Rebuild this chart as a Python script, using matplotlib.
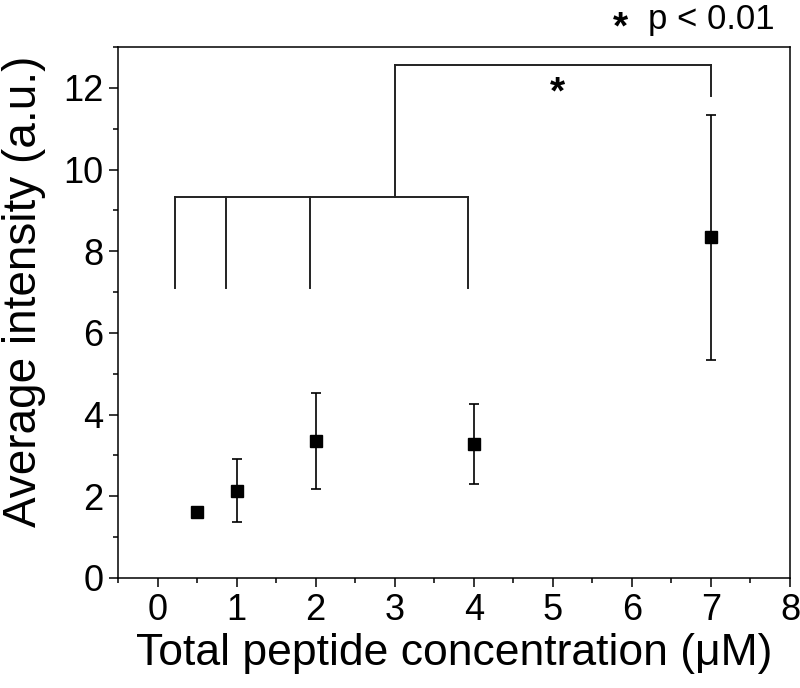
import numpy as np
import matplotlib
matplotlib.use("Agg")
import matplotlib.pyplot as plt
from matplotlib.ticker import MultipleLocator

plt.rcParams['font.family'] = ['Liberation Sans', 'DejaVu Sans']

# Data
conc = [0.5, 1, 2, 4, 7]
intensity = [1.62, 2.14, 3.36, 3.28, 8.34]
err = [0.06, 0.76, 1.18, 0.99, 3.0]

# significance bracket
leg_x = [0.22, 0.87, 1.93, 3.93]
leg_bottom = 7.09
bracket_y = 9.32
stem_x = 3
top_y = 12.55
right_x = 7
right_bottom = 11.81
star_x, star_y = 5.06, 11.85

fig = plt.figure(figsize=(8, 6.88), dpi=100)
ax = fig.add_axes([0.1475, 0.16, 0.84, 0.7717])

ax.errorbar(conc, intensity, yerr=err, fmt='none', ecolor='black',
            elinewidth=1.2, capsize=3.8, capthick=1.2, zorder=2)
ax.plot(conc, intensity, 's', color='black', ms=8.5, zorder=3)

# brackets
lc = '#222222'
lw = 1.4
for x in leg_x:
    ax.plot([x, x], [leg_bottom, bracket_y], color=lc, lw=lw)
ax.plot([leg_x[0], leg_x[-1]], [bracket_y, bracket_y], color=lc, lw=lw)
ax.plot([stem_x, stem_x], [bracket_y, top_y], color=lc, lw=lw)
ax.plot([stem_x, right_x], [top_y, top_y], color=lc, lw=lw)
ax.plot([right_x, right_x], [top_y, right_bottom], color=lc, lw=lw)
ax.text(star_x, star_y, '*', ha='center', va='center', fontsize=28, fontweight='bold')

ax.set_xlim(-0.5, 8)
ax.set_ylim(0, 13)
ax.xaxis.set_major_locator(MultipleLocator(1))
ax.xaxis.set_minor_locator(MultipleLocator(0.5))
ax.yaxis.set_major_locator(MultipleLocator(2))
ax.yaxis.set_minor_locator(MultipleLocator(1))
ax.tick_params(which='both', direction='out', width=1.1, labelsize=26, top=False, right=False)
ax.tick_params(which='major', length=6.5, pad=4)
ax.tick_params(which='minor', length=3.6)
for s in ax.spines.values():
    s.set_linewidth(1.1)

ax.set_xlabel('Total peptide concentration (\u03bcM)', fontsize=32, labelpad=4)
ax.set_ylabel('Average intensity (a.u.)', fontsize=33, va='center')
ax.yaxis.set_label_coords(-0.14, 0.54)

fig.text(0.968, 0.972, 'p < 0.01', ha='right', va='center', fontsize=25)
fig.text(0.775, 0.958, '*', ha='center', va='center', fontsize=28, fontweight='bold')

fig.savefig('out.png', dpi=100)
